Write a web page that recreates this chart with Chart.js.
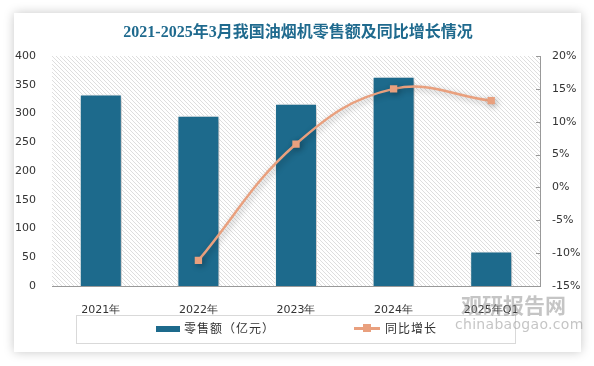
<!DOCTYPE html>
<html>
<head>
<meta charset="utf-8">
<script src="https://cdn.jsdelivr.net/npm/chart.js@4"></script>
<style>
body{margin:0;width:594px;height:366px;background:#fff;overflow:hidden;position:relative;font-family:"DejaVu Sans","Noto Sans CJK SC",sans-serif}
#card{position:absolute;left:14px;top:13px;width:567px;height:339px;background:#fff;box-shadow:0 0 10px rgba(0,0,0,0.22)}
#wrap{position:absolute;left:0;top:0;width:594px;height:366px}
#title{position:absolute;left:0;top:22px;width:596px;text-align:center;font:bold 16px "Liberation Serif","Noto Sans CJK SC",serif;color:#1f6a8e;line-height:20px}
#legend{position:absolute;left:76px;top:315px;width:438px;height:27px;border:1px solid #d9d9d9}
.sw{position:absolute}
.lt{position:absolute;font:12px "Noto Sans CJK SC",sans-serif;color:#333;line-height:16px;letter-spacing:1px}
#wm1{position:absolute;left:461px;top:289px;font:bold 21px "Noto Sans CJK SC",sans-serif;color:rgba(140,140,140,0.5);z-index:3}
#wm2{position:absolute;left:455px;top:316px;font:14px "DejaVu Sans",sans-serif;color:rgba(140,140,140,0.5);letter-spacing:0.3px;z-index:3}
</style>
</head>
<body>
<div id="card"></div>
<div id="wrap"><canvas id="chart" width="594" height="366"></canvas></div>
<div id="title">2021-2025年3月我国油烟机零售额及同比增长情况</div>
<div id="legend"></div>
<div class="sw" style="left:156px;top:326px;width:24px;height:6px;background:#1d6a8c"></div>
<div class="lt" style="left:184px;top:320px">零售额（亿元）</div>
<div class="sw" style="left:354px;top:327px;width:26px;height:3px;background:#e9a07e"></div>
<div class="sw" style="left:363px;top:324px;width:8px;height:8px;background:#e9a07e"></div>
<div class="lt" style="left:385px;top:320px">同比增长</div>
<div id="wm1">观研报告网</div>
<div id="wm2">chinabaogao.com</div>
<script>
// DATA
const categories = ["2021年", "2022年", "2023年", "2024年", "2025年Q1"];
const salesValues = [333, 296, 317, 364, 60];
const growthValues = [null, -11.1, 6.6, 15.0, 13.2];
const leftTicks = [0, 50, 100, 150, 200, 250, 300, 350, 400];
const rightTicks = [-15, -10, -5, 0, 5, 10, 15, 20];

// hatched plot background
function makeHatch() {
    const c = document.createElement("canvas");
    c.width = 4; c.height = 4;
    const g = c.getContext("2d");
    g.fillStyle = "#fff";
    g.fillRect(0, 0, 4, 4);
    g.fillStyle = "#dedede";
    for (let i = 0; i < 4; i++) g.fillRect(i, i, 1, 1);
    return g.createPattern(c, "repeat");
}

const plotBg = {
    id: "plotBg",
    beforeDatasetsDraw(chart) {
        const a = chart.chartArea;
        const ctx = chart.ctx;
        ctx.save();
        ctx.fillStyle = makeHatch();
        ctx.fillRect(a.left, a.top, a.right - a.left, a.bottom - a.top);
        ctx.restore();
    },
    afterDraw(chart) {
        // small inner tick marks on the right axis
        const s = chart.scales.y1;
        const ctx = chart.ctx;
        ctx.save();
        ctx.strokeStyle = "#999";
        ctx.lineWidth = 1;
        s.ticks.forEach(t => {
            const y = Math.round(s.getPixelForValue(t.value)) + 0.5;
            ctx.beginPath();
            ctx.moveTo(s.left - 4, y);
            ctx.lineTo(s.left, y);
            ctx.stroke();
        });
        ctx.restore();
    }
};

const shadow = {
    id: "shadow",
    beforeDatasetDraw(chart) {
        const ctx = chart.ctx;
        ctx.save();
        ctx.shadowColor = "rgba(0,0,0,0.3)";
        ctx.shadowBlur = 6;
        ctx.shadowOffsetX = 2;
        ctx.shadowOffsetY = 2;
    },
    afterDatasetDraw(chart) {
        chart.ctx.restore();
    }
};

const tickFont = { family: "DejaVu Sans", size: 11 };

new Chart(document.getElementById("chart"), {
    data: {
        labels: categories,
        datasets: [
            {
                type: "line",
                label: "同比增长",
                data: growthValues,
                yAxisID: "y1",
                borderColor: "#e9a07e",
                backgroundColor: "#e9a07e",
                borderWidth: 2.5,
                tension: 0.4,
                pointStyle: "rect",
                pointRadius: 5.2,
                pointBorderWidth: 0,
                order: 0
            },
            {
                type: "bar",
                label: "零售额（亿元）",
                data: salesValues,
                yAxisID: "y",
                backgroundColor: "#1d6a8c",
                borderColor: "#ffffff",
                borderWidth: 1,
                barPercentage: 0.43,
                categoryPercentage: 1,
                order: 1
            }
        ]
    },
    options: {
        responsive: false,
        animation: false,
        layout: { padding: { top: 56, bottom: 50, left: 0, right: 0 } },
        plugins: {
            legend: { display: false },
            title: { display: false },
            tooltip: { enabled: false }
        },
        scales: {
            x: {
                grid: { display: false },
                border: { display: true, color: "#999" },
                ticks: { color: "#333", font: tickFont, padding: 10, maxRotation: 0 },
                afterFit(s) { s.height = 30; }
            },
            y: {
                position: "left",
                min: 0, max: 400,
                afterBuildTicks(s) { s.ticks = leftTicks.map(v => ({ value: v })); },
                grid: { display: false, drawTicks: false },
                border: { display: false },
                ticks: { color: "#333", font: tickFont, padding: 16 },
                afterFit(s) { s.width = 52; }
            },
            y1: {
                position: "right",
                min: -15, max: 20,
                afterBuildTicks(s) { s.ticks = rightTicks.map(v => ({ value: v })); },
                grid: { drawOnChartArea: false, drawTicks: false },
                border: { display: true, color: "#999" },
                ticks: { color: "#333", font: tickFont, padding: 12, callback: v => v + "%" },
                afterFit(s) { s.width = 54; }
            }
        }
    },
    plugins: [plotBg, shadow]
});
</script>
</body>
</html>
